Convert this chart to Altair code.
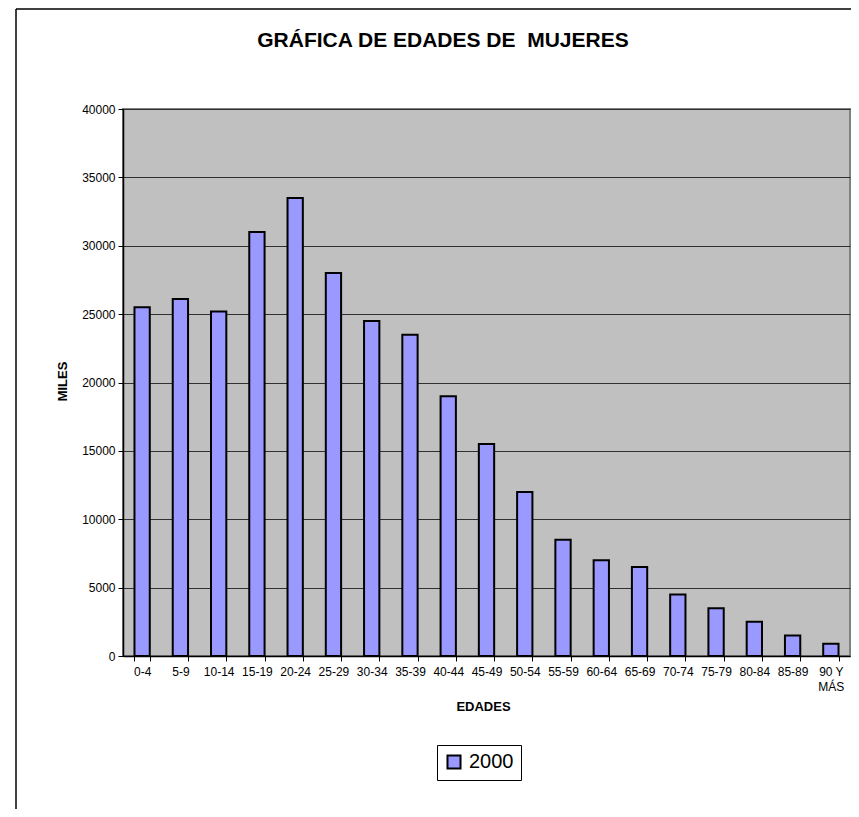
import altair as alt
import pandas as pd

# ---- data ----
categories = ["0-4", "5-9", "10-14", "15-19", "20-24", "25-29", "30-34", "35-39",
              "40-44", "45-49", "50-54", "55-59", "60-64", "65-69", "70-74",
              "75-79", "80-84", "85-89", "90 Y MÁS"]
values = [25500, 26100, 25200, 31000, 33500, 28000, 24500, 23500, 19000, 15500,
          12000, 8500, 7000, 6500, 4500, 3500, 2500, 1500, 900]
series_name = "2000"
y_ticks = [0, 5000, 10000, 15000, 20000, 25000, 30000, 35000, 40000]
title_text = "GRÁFICA DE EDADES DE \u00a0MUJERES"

df = pd.DataFrame({"edad": categories, "miles": values, "serie": series_name})

FONT = "Liberation Sans"
W, H = 727, 547

bars = alt.Chart(df).mark_bar(stroke="black", strokeWidth=2).encode(
    x=alt.X(
        "edad:N", sort=categories,
        scale=alt.Scale(paddingInner=0.6, paddingOuter=0.3),
        axis=alt.Axis(
            title="EDADES", labelAngle=0, tickBand="extent",
            labelExpr="datum.value == '90 Y MÁS' ? ['90 Y', 'MÁS'] : datum.label",
            labelFont=FONT, labelFontSize=12, labelColor="black", labelPadding=5,
            labelLineHeight=15,
            tickColor="black", tickSize=5, tickWidth=1,
            domainColor="black", domainWidth=1.5, grid=False,
            titleFont=FONT, titleFontSize=13, titleFontWeight="bold", titleColor="black",
            titleX=360, titleY=50, titleAlign="center", titleBaseline="middle",
        ),
    ),
    y=alt.Y(
        "miles:Q",
        scale=alt.Scale(domain=[0, 40000], nice=False),
        axis=alt.Axis(
            values=y_ticks, format="d", title="MILES",
            labelFont=FONT, labelFontSize=12, labelColor="black", labelPadding=3,
            tickColor="black", tickSize=5, tickWidth=1,
            domainColor="black", domainWidth=1.5,
            grid=True, gridColor="#303030", gridWidth=1.2,
            titleFont=FONT, titleFontSize=13, titleFontWeight="bold", titleColor="black",
            titleX=-61, titleY=272, titleAlign="center", titleBaseline="middle",
        ),
    ),
    color=alt.Color(
        "serie:N",
        scale=alt.Scale(range=["#9999FF"]),
        legend=alt.Legend(
            title=None, orient="none", legendX=314, legendY=636,
            strokeColor="black", fillColor="white", padding=7,
            labelFont=FONT, labelFontSize=20, labelColor="black", labelOffset=5,
            symbolType="square", symbolSize=170, symbolStrokeColor="black",
            symbolStrokeWidth=2, symbolFillColor="#9999FF",
        ),
    ),
)

title = alt.Chart(pd.DataFrame({"t": [title_text]})).mark_text(
    font=FONT, fontSize=21, fontWeight="bold", color="black",
    align="center", baseline="alphabetic",
).encode(text="t:N", x=alt.value(320), y=alt.value(-62))

border_df = pd.DataFrame({"k": [0]})
left_border = alt.Chart(border_df).mark_rule(color="black", strokeWidth=1.5).encode(
    x=alt.value(-107), y=alt.value(-100), y2=alt.value(720)
)
top_border = alt.Chart(border_df).mark_rule(color="black", strokeWidth=1.5).encode(
    x=alt.value(-107), x2=alt.value(760), y=alt.value(-100)
)

chart = alt.layer(bars, title, left_border, top_border).properties(
    width=W, height=H,
    autosize=alt.AutoSizeParams(type="none"),
    padding={"left": 115, "top": 101, "right": 1, "bottom": 153},
    background="white",
).configure_view(
    fill="#C0C0C0", stroke="#808080", strokeWidth=2
)

chart.save("out.html", embed_options={"renderer": "svg", "actions": False})
